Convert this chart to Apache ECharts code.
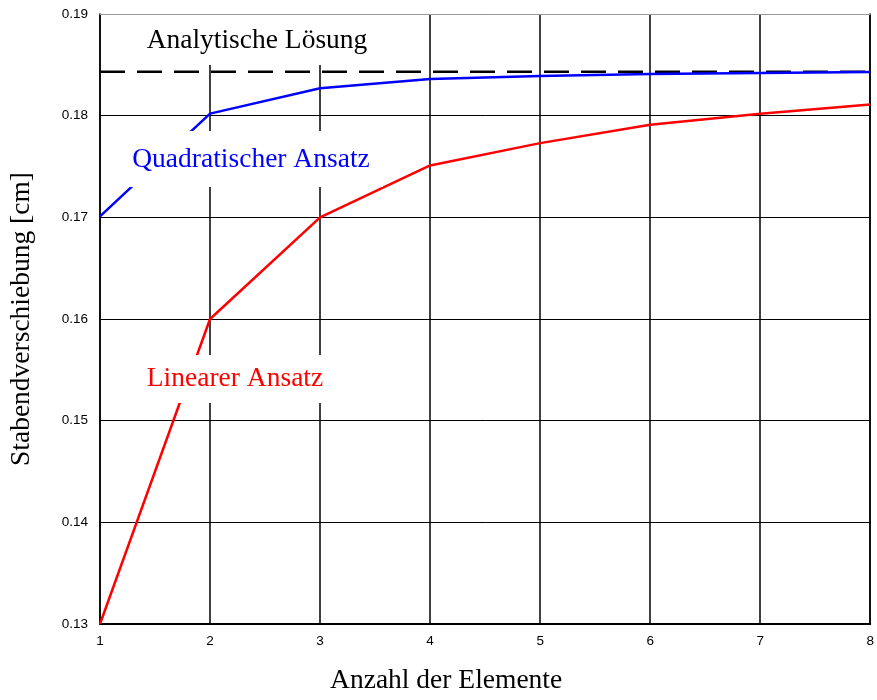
<!DOCTYPE html>
<html>
<head>
<meta charset="utf-8">
<script src="https://cdn.jsdelivr.net/npm/echarts@6/dist/echarts.min.js"></script>
<style>
  html, body { margin: 0; padding: 0; background: #fff; }
  #chart { width: 877px; height: 700px; }
</style>
</head>
<body>
<div id="chart"></div>
<script>
// Number of finite elements
const elements = [1, 2, 3, 4, 5, 6, 7, 8];
// Bar end displacement [cm] for linear and quadratic shape functions
const linearAnsatz = [0.1300, 0.1600, 0.1700, 0.1751, 0.1773, 0.1791, 0.1802, 0.1811];
const quadraticAnsatz = [0.1701, 0.1802, 0.1827, 0.1836, 0.1839, 0.1841, 0.1842, 0.1843];
// Exact solution
const analyticSolution = 0.18432;

const serif = '"Liberation Serif", "DejaVu Serif", serif';
const sans = '"Liberation Sans", Arial, sans-serif';
const labelFont = '27.5px ' + serif;

const chart = echarts.init(document.getElementById('chart'));

const pairs = arr => elements.map((x, i) => [x, arr[i]]);

chart.setOption({
  animation: false,
  backgroundColor: '#ffffff',
  grid: { left: 100, right: 6, top: 14, bottom: 76, containLabel: false },
  xAxis: [{
    type: 'value', min: 1, max: 8, interval: 1,
    name: 'Anzahl der Elemente', nameLocation: 'middle', nameGap: 43,
    nameTextStyle: { fontFamily: serif, fontSize: 27.5, color: '#000', padding: [0, 78, 0, 0] },
    axisLine: { show: true, onZero: false, lineStyle: { color: '#000', width: 2 } },
    axisTick: { show: false },
    axisLabel: { color: '#000', fontFamily: sans, fontSize: 13.5, margin: 10 },
    splitLine: { show: true, lineStyle: { color: '#000', width: 1.5 } }
  }, {
    type: 'value', min: 1, max: 8, interval: 1, position: 'top',
    axisLine: { show: true, onZero: false, lineStyle: { color: '#9a9a9a', width: 1 } },
    axisTick: { show: false }, axisLabel: { show: false }, splitLine: { show: false }
  }],
  yAxis: [{
    type: 'value', min: 0.13, max: 0.19, interval: 0.01,
    name: 'Stabendverschiebung [cm]', nameLocation: 'middle', nameGap: 64,
    nameTextStyle: { fontFamily: serif, fontSize: 27.5, color: '#000' },
    axisLine: { show: true, onZero: false, lineStyle: { color: '#000', width: 1.5 } },
    axisTick: { show: false },
    axisLabel: { color: '#000', fontFamily: sans, fontSize: 13.5, margin: 12,
      formatter: v => v.toFixed(2) },
    splitLine: { show: true, lineStyle: { color: '#000', width: 1 } }
  }, {
    type: 'value', min: 0.13, max: 0.19, interval: 0.01, position: 'right',
    axisLine: { show: true, onZero: false, lineStyle: { color: '#000', width: 1.5 } },
    axisTick: { show: false }, axisLabel: { show: false }, splitLine: { show: false }
  }],
  series: [{
    name: 'Analytische Lösung', type: 'line',
    data: [[elements[0], analyticSolution], [elements[elements.length - 1], analyticSolution]],
    showSymbol: false, silent: true,
    lineStyle: { color: '#000', width: 2.5, type: [25, 12] }
  }, {
    name: 'Linearer Ansatz', type: 'line', data: pairs(linearAnsatz),
    showSymbol: false, silent: true,
    lineStyle: { color: '#ff0000', width: 2.5 }
  }, {
    name: 'Quadratischer Ansatz', type: 'line', data: pairs(quadraticAnsatz),
    showSymbol: false, silent: true,
    lineStyle: { color: '#0000ff', width: 2.5 }
  }],
  graphic: [
    { type: 'rect', z: 100, shape: { x: 108, y: 15, width: 300, height: 50 }, style: { fill: '#fff' } },
    { type: 'text', z: 101, x: 257, y: 41,
      style: { text: 'Analytische Lösung', font: labelFont, fill: '#000',
        textAlign: 'center', textVerticalAlign: 'middle' } },
    { type: 'rect', z: 100, shape: { x: 118, y: 131, width: 265, height: 56 }, style: { fill: '#fff' } },
    { type: 'text', z: 101, x: 251, y: 160,
      style: { text: 'Quadratischer Ansatz', font: labelFont, fill: '#0000ff',
        textAlign: 'center', textVerticalAlign: 'middle' } },
    { type: 'rect', z: 100, shape: { x: 135, y: 355, width: 200, height: 48 }, style: { fill: '#fff' } },
    { type: 'text', z: 101, x: 235, y: 379,
      style: { text: 'Linearer Ansatz', font: labelFont, fill: '#ff0000',
        textAlign: 'center', textVerticalAlign: 'middle' } }
  ]
});
</script>
</body>
</html>
